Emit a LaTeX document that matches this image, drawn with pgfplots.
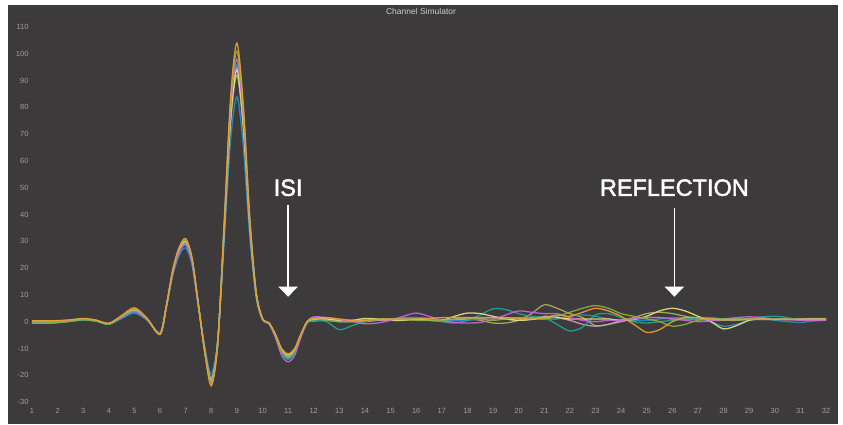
\documentclass[border=0pt]{standalone}
\usepackage{pgfplots}
\pgfplotsset{compat=1.18}
\usepackage{pgfplotstable}
\usepackage{fontspec}
\setmainfont{Liberation Sans}
\newfontfamily\annotfont[FakeBold=2]{Liberation Sans}
\usetikzlibrary{arrows.meta}

\definecolor{panel}{RGB}{60,58,58}
\definecolor{tickgray}{RGB}{158,156,156}
\definecolor{titlegray}{RGB}{205,203,203}
\definecolor{c1}{RGB}{232,160,48}
\definecolor{c2}{RGB}{138,176,64}
\definecolor{c3}{RGB}{208,96,224}
\definecolor{c4}{RGB}{31,165,149}
\definecolor{c5}{RGB}{230,224,122}
\definecolor{c6}{RGB}{170,172,110}
\definecolor{c7}{RGB}{43,140,196}
\definecolor{c8}{RGB}{200,160,184}

% channel pulse responses, 8 traces
\pgfplotstableread{
x     s1    s2    s3    s4    s5    s6    s7    s8
1     0.3   -0.5  0     -0.3  0.2   -0.6  0     0.1
1.5   0.3   -0.5  0     -0.3  0.2   -0.6  0     0.1
2     0.4   -0.3  0.1   -0.2  0.3   -0.4  0     0.2
2.5   0.7   0.2   0.4   0.2   0.5   0.1   0.3   0.5
3     1.2   0.7   0.9   0.6   1     0.6   0.7   1
3.5   0.6   0.3   0.4   0.2   0.5   0.2   0.2   0.4
4     -0.6  -0.9  -0.8  -1    -0.7  -1    -0.9  -0.8
4.5   2.3   2     1.6   1.3   1.9   1.7   1.2   1.7
5     5.2   4.8   4     3.5   4.5   4.2   3.2   4
5.5   1.2   1     0.7   0.6   0.9   0.8   0.5   0.8
6     -4.8  -4.7  -4.4  -4.2  -4.6  -4.5  -4    -4.4
6.25  6.2   6.1   5.8   5.7   6     5.9   5.5   5.8
6.5   19.6  19.3  18.4  18    19    18.7  17.4  18.4
6.75  27.9  27.5  26.1  25.7  27    26.5  24.8  26.1
7     31    30.5  29    28.5  30    29.5  27.5  29
7.25  23.8  23.4  22.2  21.9  23    22.6  21.1  22.2
7.5   6.2   6.1   5.8   5.7   6     5.9   5.5   5.8
7.75  -12   -11.5 -11.2 -10.7 -11   -10.5 -9.7  -11
8     -24   -23   -22.5 -21.5 -22   -21   -19.5 -22
8.25  -8.7  -8.4  -8.2  -7.8  -7.5  -7.6  -7    -7.6
8.5   36.4  35.4  34.3  33.6  32.9  32.2  29.4  33.3
8.75  83.2  80.8  78.4  76.8  75.2  73.6  67.2  76
9     104   101   98    96    94    92    84    95
9.25  81.1  78.8  76.4  74.9  73.3  71.8  65.5  74.1
9.5   39.5  38.4  37.2  36.5  35.7  35    31.9  36.1
9.75  11.4  11.1  10.8  10.6  10.3  10.1  9.2   10.5
10    1.2   1     0.9   0.9   1     0.8   0.8   1
10.25 -0.4  -0.5  -0.8  -0.7  -0.5  -0.6  -0.7  -0.5
10.5  -4.6  -5    -5.8  -5.4  -4.8  -5.2  -5.4  -5
10.75 -10.1 -11   -12.7 -11.8 -10.6 -11.4 -11.8 -11
11    -12   -13   -15   -14   -12.5 -13.5 -14   -13
11.25 -10.1 -11   -12.7 -11.8 -10.6 -11.4 -11.8 -11
11.5  -4.6  -5    -5.8  -5.4  -4.8  -5.2  -5.4  -5
11.75 0.2   0     0     -0.3  0     -0.2  -0.5  0
12    1.3   1.1   1.8   0.5   0.8   0.2   0.6   1
12.5  1.5   0.5   1.5   0     1     0.5   0.5   1
13    1     0     0.8   -3    0.5   0     0     0.5
13.5  0.5   0     0     -1.5  0.5   0     0.3   0.2
14    0.5   0.5   -0.8  0     1.2   0.5   0.8   0
14.5  0.8   1     -0.5  0.8   1     0.5   1     0.5
15    1     1     0.5   1     0.5   0.8   0.8   1
15.5  1     0.8   2     1.5   0.5   1     1     1.2
16    1     0.5   3.2   1.5   0.8   1     1.5   1.5
16.5  1.2   0.5   2     1     0.5   0.5   1.2   1
17    1.5   0.5   0.5   0     0.5   0.2   0.5   0.8
17.5  1.5   1     -0.3  -0.5  2     0.5   0.3   0.8
18    1.5   1.5   -0.5  0.5   3.2   1     0.5   1
18.5  1.5   1     -0.3  2.5   3     0.5   1     1.2
19    1.5   0.5   0.8   4.8   2     -0.5  1.5   1.5
19.5  1.5   1     2.5   4.5   1     -0.5  1.5   1
20    1.2   1.5   4     3     0.5   0.5   1.2   0.5
20.5  1     1.5   3.5   2     0.8   3     1     1
21    1.5   1     3     1.5   1.5   6.3   0.8   2
21.5  2.5   2     3     -1    1.5   5     1     1.5
22    2     3.5   1.5   -3.5  1     3     2     0.5
22.5  3.5   5     0.5   -2    1     1.5   2.5   -1
23    5     6     0     2.5   1     -1.5  2     -1.7
23.5  4     5     0.5   3     1     -1    1     -1
24    2     3     0.5   1.5   0.5   0.5   0.5   0
24.5  -1    2     1     0     0.8   1.5   0.5   1
25    -4    1     1.5   -0.5  2     3     0.5   1.5
25.5  -3    0     1.5   0     4     3.5   1     1.5
26    0     -1.7  1     0.5   5     3     1.5   1
26.5  1.5   -1    0.5   1     4     2     1.5   1
27    1.5   0.5   0     1.5   2     1     1     1
27.5  1     1     0.3   1.5   0     0.5   0     1
28    0.8   1     1     1     -2.7  0.5   -1.7  1
28.5  0.8   1     1.5   1     -1.5  0.5   -1    1
29    1     0.8   1.8   1.2   0.5   0.8   0.5   1
29.5  1     0.8   1.5   1.8   1     1     1     0.8
30    0.8   1     1     2     1     1     0.5   0.8
30.5  0.8   1     0.8   1.5   0.8   1     0     0.8
31    0.8   0.8   0.5   0.5   0.8   1     -0.3  1
31.5  0.8   1     0.5   0.5   1     1.2   0.2   1
32    0.8   1     0.5   0.5   1     1.2   0.5   1
}\pulses

\begin{document}
\begin{tikzpicture}[x=1pt,y=1pt]
\fill[white] (0,0) rectangle (843,-424);
\fill[panel] (8,-5) rectangle (838,-424);
\node[text=titlegray, font=\fontsize{8.5}{9}\selectfont] at (421,-11.5) {Channel Simulator};

\begin{axis}[
  at={(32pt,-402pt)}, anchor=south west,
  scale only axis, width=794pt, height=375pt,
  xmin=1, xmax=32, ymin=-30, ymax=110,
  xtick={1,...,32}, ytick={-30,-20,...,110},
  axis line style={draw=none},
  major tick style={draw=none},
  ticklabel style={font=\fontsize{7.5}{8}\selectfont, text=tickgray},
  xticklabel style={yshift=-2.5pt},
  /pgf/number format/assume math mode=true,
  clip=false,
  every axis plot/.append style={smooth, line width=1.3pt, opacity=0.92},
]
\addplot[c6] table[x=x, y=s6] {\pulses};
\addplot[c8] table[x=x, y=s8] {\pulses};
\addplot[c7] table[x=x, y=s7] {\pulses};
\addplot[c4] table[x=x, y=s4] {\pulses};
\addplot[c5] table[x=x, y=s5] {\pulses};
\addplot[c3] table[x=x, y=s3] {\pulses};
\addplot[c2] table[x=x, y=s2] {\pulses};
\addplot[c1] table[x=x, y=s1] {\pulses};

\draw[white, line width=1.6pt, -{Triangle[width=19pt,length=10pt]}]
  (axis cs:11,43.7) -- (axis cs:11,9.3);
\node[text=white, font=\annotfont\fontsize{23.5}{26}\selectfont] at (axis cs:11,50) {ISI};
\draw[white, line width=1.6pt, -{Triangle[width=19pt,length=10pt]}]
  (axis cs:26.08,42.5) -- (axis cs:26.08,9.3);
\node[text=white, font=\annotfont\fontsize{23.5}{26}\selectfont] at (axis cs:26.08,50) {REFLECTION};
\end{axis}
\end{tikzpicture}
\end{document}
